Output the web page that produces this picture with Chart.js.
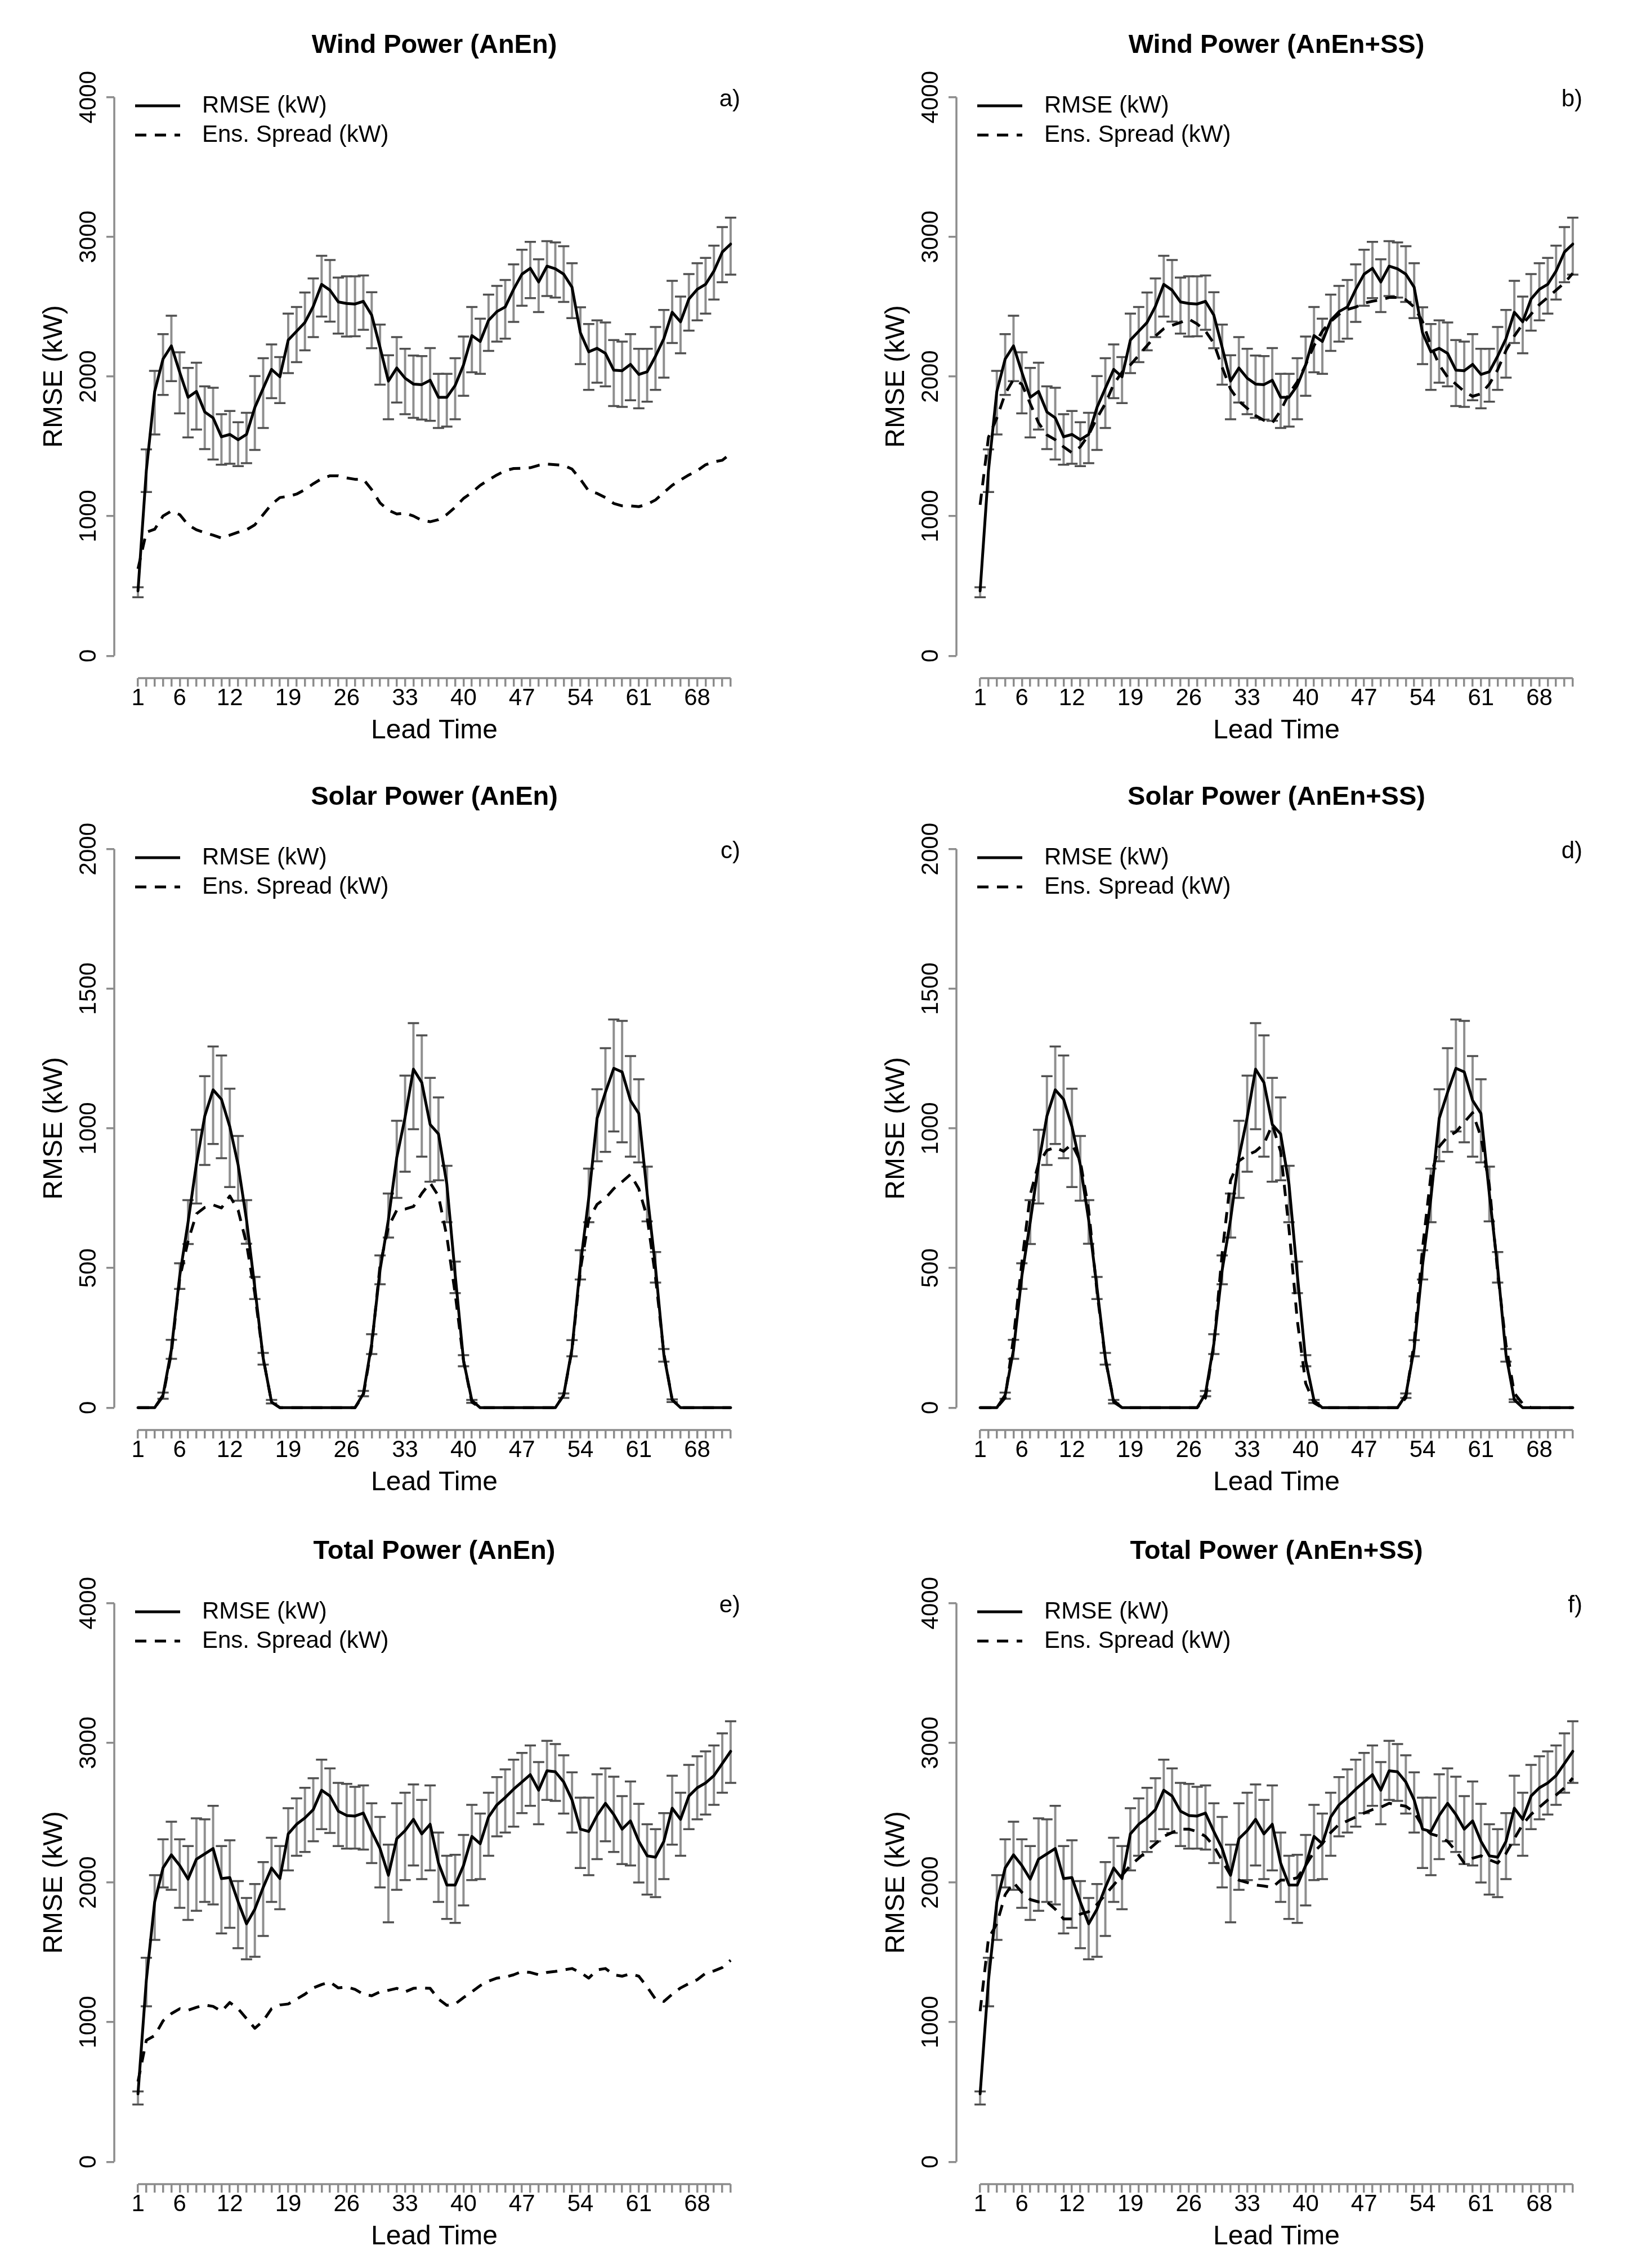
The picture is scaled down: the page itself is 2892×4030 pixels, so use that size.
<!DOCTYPE html>
<html>
<head>
<meta charset="utf-8">
<title>RMSE and ensemble spread by lead time</title>
<script src="https://cdn.jsdelivr.net/npm/chart.js@4.4.1/dist/chart.umd.min.js"></script>
<style>
  html, body { margin: 0; padding: 0; background: #fff; overflow: hidden; }
  #page { position: relative; width: 2892px; height: 4030px; background: #fff; }
  #page canvas { position: absolute; }
</style>
</head>
<body>
<div id="page"></div>
<script>
// lead times (hours) and the ones R printed a label for
const leads = [1, 2, 3, 4, 5, 6, 7, 8, 9, 10, 11, 12, 13, 14, 15, 16, 17, 18, 19, 20,
  21, 22, 23, 24, 25, 26, 27, 28, 29, 30, 31, 32, 33, 34, 35, 36, 37, 38, 39, 40,
  41, 42, 43, 44, 45, 46, 47, 48, 49, 50, 51, 52, 53, 54, 55, 56, 57, 58, 59, 60,
  61, 62, 63, 64, 65, 66, 67, 68, 69, 70, 71, 72];
const leadLabels = [1, 6, 12, 19, 26, 33, 40, 47, 54, 61, 68];
const powerTicks = [0, 1000, 2000, 3000, 4000];
const solarTicks = [0, 500, 1000, 1500, 2000];

// wind power
const windRmse = [465, 1326, 1893, 2125, 2219, 2030, 1851, 1893, 1746, 1704,
  1568, 1585, 1547, 1585, 1778, 1915, 2051, 1998, 2261, 2324,
  2387, 2502, 2660, 2618, 2534, 2523, 2519, 2538, 2439, 2208,
  1967, 2061, 1988, 1946, 1942, 1973, 1851, 1851, 1936, 2083,
  2293, 2251, 2402, 2465, 2498, 2624, 2733, 2775, 2677, 2790,
  2771, 2733, 2639, 2313, 2177, 2202, 2166, 2045, 2041, 2087,
  2015, 2034, 2145, 2271, 2460, 2391, 2555, 2624, 2660, 2755,
  2891, 2948];
const windHigh = [491, 1478, 2040, 2303, 2435, 2173, 2061, 2099, 1929, 1919,
  1730, 1753, 1673, 1740, 2003, 2131, 2230, 2139, 2450, 2498,
  2601, 2702, 2864, 2834, 2708, 2717, 2717, 2723, 2603, 2372,
  2152, 2282, 2198, 2150, 2146, 2204, 2019, 2019, 2131, 2286,
  2498, 2414, 2586, 2649, 2691, 2803, 2908, 2964, 2839, 2969,
  2960, 2933, 2811, 2496, 2376, 2402, 2387, 2261, 2250, 2303,
  2198, 2198, 2355, 2477, 2685, 2572, 2733, 2811, 2849, 2937,
  3070, 3137];
const windLow = [419, 1173, 1585, 1868, 1967, 1736, 1564, 1620, 1480, 1406,
  1368, 1375, 1358, 1379, 1474, 1631, 1845, 1810, 2024, 2103,
  2187, 2282, 2429, 2393, 2307, 2286, 2288, 2334, 2202, 1942,
  1694, 1814, 1730, 1704, 1692, 1683, 1631, 1641, 1694, 1862,
  2030, 2019, 2183, 2250, 2271, 2391, 2507, 2561, 2461, 2576,
  2565, 2534, 2418, 2089, 1904, 1956, 1929, 1788, 1782, 1830,
  1772, 1820, 1904, 1992, 2240, 2166, 2328, 2402, 2450, 2551,
  2675, 2729];
const windSpreadAnEn = [623, 885, 906, 1001, 1037, 1011, 938, 902, 881, 864,
  843, 864, 885, 902, 938, 1011, 1085, 1133, 1142, 1158,
  1190, 1232, 1268, 1289, 1289, 1274, 1264, 1264, 1190, 1095,
  1043, 1016, 1022, 1001, 970, 960, 975, 1012, 1064, 1127,
  1169, 1221, 1259, 1295, 1326, 1341, 1343, 1347, 1364, 1373,
  1368, 1364, 1337, 1264, 1180, 1163, 1133, 1091, 1074, 1074,
  1068, 1085, 1116, 1169, 1221, 1259, 1295, 1326, 1368, 1389,
  1400, 1448];
const windSpreadSS = [1081, 1565, 1703, 1876, 1979, 1945, 1806, 1668, 1582, 1547,
  1496, 1454, 1496, 1582, 1703, 1806, 1945, 2031, 2083, 2152,
  2221, 2290, 2342, 2366, 2387, 2411, 2376, 2325, 2238, 2065,
  1910, 1824, 1772, 1720, 1686, 1668, 1755, 1876, 1962, 2083,
  2221, 2325, 2394, 2446, 2480, 2497, 2525, 2539, 2549, 2566,
  2566, 2549, 2497, 2394, 2221, 2083, 1996, 1945, 1893, 1858,
  1876, 1945, 2048, 2186, 2290, 2376, 2446, 2515, 2566, 2618,
  2670, 2739];

// solar power
const solarRmse = [0, 0, 0, 45, 207, 472, 664, 873, 1044, 1138,
  1104, 1006, 869, 673, 429, 178, 20, 0, 0, 0,
  0, 0, 0, 0, 0, 0, 0, 50, 229, 493,
  673, 895, 1040, 1212, 1164, 1014, 980, 801, 476, 169,
  26, 0, 0, 0, 0, 0, 0, 0, 0, 0,
  0, 45, 212, 510, 750, 1036, 1129, 1215, 1202, 1100,
  1053, 767, 502, 190, 28, 0, 0, 0, 0, 0,
  0, 0];
const solarHigh = [0, 0, 0, 54, 243, 517, 743, 995, 1187, 1293,
  1261, 1142, 973, 743, 468, 196, 28, 0, 0, 0,
  0, 0, 0, 0, 0, 0, 0, 60, 263, 545,
  767, 1027, 1189, 1377, 1333, 1181, 1111, 866, 523, 188,
  28, 0, 0, 0, 0, 0, 0, 0, 0, 0,
  0, 51, 242, 564, 856, 1140, 1287, 1390, 1385, 1259,
  1176, 863, 557, 210, 30, 0, 0, 0, 0, 0,
  0, 0];
const solarLow = [0, 0, 0, 32, 175, 425, 586, 731, 869, 944,
  893, 790, 741, 587, 389, 154, 15, 0, 0, 0,
  0, 0, 0, 0, 0, 0, 0, 41, 192, 442,
  609, 751, 845, 997, 899, 809, 814, 664, 410, 148,
  17, 0, 0, 0, 0, 0, 0, 0, 0, 0,
  0, 35, 184, 459, 664, 882, 916, 989, 950, 899,
  878, 667, 448, 165, 20, 0, 0, 0, 0, 0,
  0, 0];
const solarSpreadAnEn = [0, 0, 0, 41, 195, 464, 596, 694, 717, 726,
  715, 758, 707, 587, 408, 178, 20, 0, 0, 0,
  0, 0, 0, 0, 0, 0, 0, 45, 220, 510,
  647, 707, 711, 720, 767, 805, 758, 613, 408, 169,
  20, 0, 0, 0, 0, 0, 0, 0, 0, 0,
  0, 45, 207, 493, 673, 728, 750, 784, 809, 835,
  784, 681, 468, 195, 28, 0, 0, 0, 0, 0,
  0, 0];
const solarSpreadSS = [0, 0, 0, 35, 251, 520, 762, 874, 921, 932,
  918, 944, 883, 710, 416, 173, 26, 0, 0, 0,
  0, 0, 0, 0, 0, 0, 0, 35, 225, 554,
  814, 883, 904, 918, 944, 1013, 918, 641, 312, 87,
  17, 0, 0, 0, 0, 0, 0, 0, 0, 0,
  0, 35, 234, 571, 831, 935, 970, 987, 1022, 1056,
  970, 797, 485, 225, 52, 14, 0, 0, 0, 0,
  0, 0];

// total power
const totalRmse = [487, 1300, 1861, 2104, 2198, 2122, 2024, 2167, 2205, 2243,
  2028, 2035, 1861, 1704, 1809, 1965, 2104, 2028, 2348, 2417,
  2462, 2522, 2661, 2619, 2511, 2480, 2476, 2497, 2365, 2243,
  2052, 2313, 2372, 2452, 2348, 2417, 2139, 1982, 1982, 2122,
  2330, 2278, 2469, 2556, 2609, 2668, 2720, 2772, 2661, 2800,
  2793, 2720, 2591, 2382, 2365, 2480, 2567, 2487, 2382, 2441,
  2295, 2191, 2181, 2295, 2532, 2452, 2619, 2678, 2713, 2765,
  2852, 2939];
const totalHigh = [504, 1461, 2052, 2309, 2435, 2309, 2261, 2459, 2452, 2549,
  2261, 2302, 2010, 1889, 1989, 2146, 2320, 2261, 2532, 2602,
  2678, 2747, 2880, 2817, 2713, 2706, 2685, 2695, 2567, 2469,
  2271, 2567, 2643, 2702, 2591, 2695, 2358, 2191, 2198, 2341,
  2556, 2494, 2643, 2755, 2810, 2880, 2928, 2981, 2862, 3015,
  2991, 2911, 2789, 2608, 2608, 2775, 2817, 2758, 2619, 2723,
  2563, 2417, 2382, 2497, 2765, 2643, 2842, 2904, 2939, 2981,
  3068, 3155];
const totalLow = [410, 1113, 1589, 1965, 1948, 1819, 1732, 1798, 1861, 1843,
  1635, 1676, 1530, 1450, 1468, 1617, 1861, 1809, 2087, 2191,
  2219, 2295, 2382, 2355, 2261, 2243, 2243, 2236, 2139, 1965,
  1715, 1948, 2017, 2122, 2024, 2087, 1861, 1739, 1711, 1836,
  2017, 2024, 2191, 2330, 2358, 2400, 2497, 2549, 2417, 2591,
  2584, 2494, 2358, 2104, 2052, 2167, 2295, 2219, 2132, 2122,
  2000, 1913, 1895, 2024, 2271, 2191, 2382, 2452, 2487, 2556,
  2643, 2713];
const totalSpreadAnEn = [574, 870, 904, 1009, 1061, 1096, 1085, 1106, 1123, 1113,
  1078, 1141, 1096, 1026, 956, 1009, 1096, 1123, 1130, 1165,
  1200, 1245, 1269, 1287, 1245, 1252, 1235, 1200, 1189, 1217,
  1228, 1242, 1217, 1242, 1245, 1242, 1165, 1120, 1130, 1176,
  1217, 1262, 1294, 1315, 1322, 1339, 1363, 1356, 1339, 1356,
  1363, 1374, 1384, 1356, 1315, 1374, 1384, 1339, 1329, 1346,
  1329, 1252, 1165, 1148, 1200, 1245, 1276, 1304, 1350, 1367,
  1391, 1443];
const totalSpreadSS = [1078, 1600, 1704, 1913, 2000, 1930, 1878, 1861, 1861, 1809,
  1739, 1739, 1774, 1791, 1843, 1913, 1982, 2052, 2122, 2174,
  2226, 2278, 2330, 2358, 2382, 2382, 2365, 2330, 2261, 2156,
  2052, 2017, 2000, 1982, 1975, 1965, 2017, 2017, 2035, 2122,
  2219, 2278, 2358, 2417, 2441, 2469, 2497, 2522, 2539, 2567,
  2556, 2546, 2504, 2400, 2348, 2330, 2295, 2226, 2139, 2174,
  2191, 2163, 2139, 2208, 2313, 2417, 2487, 2539, 2591, 2626,
  2678, 2748];

const panels = [
  { title: 'Wind Power (AnEn)', tag: 'a)', rmse: windRmse, lo: windLow, hi: windHigh, spread: windSpreadAnEn, ticks: powerTicks, col: 0, row: 0 },
  { title: 'Wind Power (AnEn+SS)', tag: 'b)', rmse: windRmse, lo: windLow, hi: windHigh, spread: windSpreadSS, ticks: powerTicks, col: 1, row: 0 },
  { title: 'Solar Power (AnEn)', tag: 'c)', rmse: solarRmse, lo: solarLow, hi: solarHigh, spread: solarSpreadAnEn, ticks: solarTicks, col: 0, row: 1 },
  { title: 'Solar Power (AnEn+SS)', tag: 'd)', rmse: solarRmse, lo: solarLow, hi: solarHigh, spread: solarSpreadSS, ticks: solarTicks, col: 1, row: 1 },
  { title: 'Total Power (AnEn)', tag: 'e)', rmse: totalRmse, lo: totalLow, hi: totalHigh, spread: totalSpreadAnEn, ticks: powerTicks, col: 0, row: 2 },
  { title: 'Total Power (AnEn+SS)', tag: 'f)', rmse: totalRmse, lo: totalLow, hi: totalHigh, spread: totalSpreadSS, ticks: powerTicks, col: 1, row: 2 },
];

const FONT = '"Liberation Sans", Arial, Helvetica, sans-serif';
const AXIS_GREY = '#8c8c8c';
const COL_X = [0, 1496];
const ROW_Y = [0, 1336, 2676];
const PAGE_W = 2892;
const PANEL_H = 1343;
// plot region inside a panel, like R's par("plt")
const AREA = { left: 203, top: 133, right: 1340, bottom: 1205 };

// R style: axis lines only span first..last tick, y labels parallel to the axis, legend and panel tag
const rAxes = {
  id: 'rAxes',
  afterDraw(chart, args, opts) {
    const { ctx, chartArea: a, scales: { x, y } } = chart;
    const yt = y.ticks;
    ctx.save();
    ctx.strokeStyle = AXIS_GREY;
    ctx.lineWidth = 3.5;
    ctx.beginPath();
    ctx.moveTo(x.getPixelForValue(leads[0]), a.bottom);
    ctx.lineTo(x.getPixelForValue(leads[leads.length - 1]), a.bottom);
    ctx.moveTo(a.left, y.getPixelForValue(yt[0].value));
    ctx.lineTo(a.left, y.getPixelForValue(yt[yt.length - 1].value));
    ctx.stroke();

    ctx.fillStyle = '#000';
    ctx.font = '42px ' + FONT;
    ctx.textAlign = 'center';
    ctx.textBaseline = 'alphabetic';
    yt.forEach(t => {
      ctx.save();
      ctx.translate(a.left - 33, y.getPixelForValue(t.value));
      ctx.rotate(-Math.PI / 2);
      ctx.fillText(String(t.value), 0, 0);
      ctx.restore();
    });

    // legend, top left
    const rows = [a.top + 55, a.top + 107];
    chart.data.datasets.forEach((ds, i) => {
      ctx.strokeStyle = ds.borderColor;
      ctx.lineWidth = ds.borderWidth;
      ctx.setLineDash(ds.borderDash || []);
      ctx.beginPath();
      ctx.moveTo(a.left + 37, rows[i]);
      ctx.lineTo(a.left + 117, rows[i]);
      ctx.stroke();
      ctx.setLineDash([]);
      ctx.textAlign = 'left';
      ctx.textBaseline = 'middle';
      ctx.fillText(ds.label, a.left + 156, rows[i]);
    });

    ctx.textAlign = 'right';
    ctx.textBaseline = 'middle';
    ctx.fillText(opts.tag, a.right - 25, a.top + 44);
    ctx.restore();
  }
};

// arrows(..., angle = 90, code = 3) error bars
const rErrorBars = {
  id: 'rErrorBars',
  beforeDatasetsDraw(chart, args, opts) {
    const { ctx, scales: { x, y } } = chart;
    ctx.save();
    leads.forEach((lead, i) => {
      if (opts.hi[i] - opts.lo[i] <= 0) return;
      const px = x.getPixelForValue(lead);
      const top = y.getPixelForValue(opts.hi[i]);
      const bot = y.getPixelForValue(opts.lo[i]);
      ctx.strokeStyle = '#8f8f8f';
      ctx.lineWidth = 4;
      ctx.beginPath();
      ctx.moveTo(px, bot);
      ctx.lineTo(px, top);
      ctx.stroke();
      ctx.strokeStyle = '#505050';
      ctx.lineWidth = 3.5;
      ctx.beginPath();
      ctx.moveTo(px - 10, top);
      ctx.lineTo(px + 10, top);
      ctx.moveTo(px - 10, bot);
      ctx.lineTo(px + 10, bot);
      ctx.stroke();
    });
    ctx.restore();
  }
};

const page = document.getElementById('page');

panels.forEach(p => {
  const w = p.col === 0 ? COL_X[1] - 50 : PAGE_W - COL_X[1];
  const canvas = document.createElement('canvas');
  canvas.width = w;
  canvas.height = PANEL_H;
  canvas.style.width = w + 'px';
  canvas.style.height = PANEL_H + 'px';
  canvas.style.left = COL_X[p.col] + 'px';
  canvas.style.top = ROW_Y[p.row] + 'px';
  page.appendChild(canvas);

  const yMax = p.ticks[p.ticks.length - 1];
  const yPad = yMax * 0.04;
  const xPad = (leads[leads.length - 1] - leads[0]) * 0.04;

  new Chart(canvas.getContext('2d'), {
    type: 'line',
    data: {
      datasets: [
        {
          label: 'RMSE (kW)',
          data: leads.map((l, i) => ({ x: l, y: p.rmse[i] })),
          borderColor: '#000',
          borderWidth: 5,
          pointRadius: 0,
          tension: 0,
          borderJoinStyle: 'round',
          borderCapStyle: 'round',
        },
        {
          label: 'Ens. Spread (kW)',
          data: leads.map((l, i) => ({ x: l, y: p.spread[i] })),
          borderColor: '#000',
          borderWidth: 5,
          borderDash: [20, 15],
          pointRadius: 0,
          tension: 0,
          borderJoinStyle: 'round',
        },
      ],
    },
    options: {
      responsive: false,
      animation: false,
      devicePixelRatio: 1,
      layout: { padding: { left: 0, top: 0, right: w - AREA.right, bottom: 0 } },
      plugins: {
        legend: { display: false },
        tooltip: { enabled: false },
        title: {
          display: true,
          text: p.title,
          fullSize: false,
          color: '#000',
          font: { family: FONT, size: 47, weight: 'bold', lineHeight: 1.2 },
          padding: { top: 52.8, bottom: 23.8 },
        },
        rAxes: { tag: p.tag },
        rErrorBars: { lo: p.lo, hi: p.hi },
      },
      scales: {
        x: {
          type: 'linear',
          min: leads[0] - xPad,
          max: leads[leads.length - 1] + xPad,
          afterBuildTicks: s => { s.ticks = leads.map(v => ({ value: v })); },
          afterFit: s => { s.height = PANEL_H - AREA.bottom; },
          border: { display: false },
          grid: { drawOnChartArea: false, drawTicks: true, tickLength: 15, color: AXIS_GREY, lineWidth: 3.5 },
          ticks: {
            autoSkip: false,
            maxRotation: 0,
            minRotation: 0,
            padding: 0,
            color: '#000',
            font: { family: FONT, size: 42, lineHeight: 1 },
            callback: v => (leadLabels.includes(v) ? String(v) : ''),
          },
          title: {
            display: true,
            text: 'Lead Time',
            color: '#000',
            font: { family: FONT, size: 48, lineHeight: 1.2 },
            padding: { top: 0, bottom: 15 },
          },
        },
        y: {
          type: 'linear',
          min: -yPad,
          max: yMax + yPad,
          afterBuildTicks: s => { s.ticks = p.ticks.map(v => ({ value: v })); },
          afterFit: s => { s.width = AREA.left; },
          border: { display: false },
          grid: { drawOnChartArea: false, drawTicks: true, tickLength: 14, color: AXIS_GREY, lineWidth: 3.5 },
          ticks: { display: false },
          title: {
            display: true,
            text: 'RMSE (kW)',
            color: '#000',
            font: { family: FONT, size: 48, lineHeight: 1.2 },
            padding: { top: 68, bottom: 0 },
          },
        },
      },
    },
    plugins: [rErrorBars, rAxes],
  });
});
</script>
</body>
</html>
